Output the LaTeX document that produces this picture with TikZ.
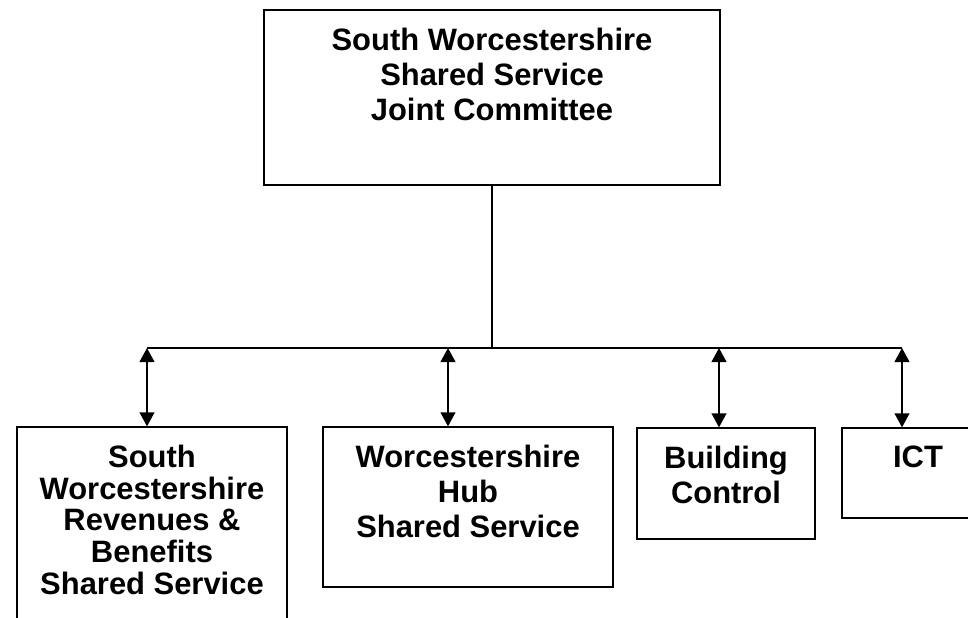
\documentclass[tikz,border=0pt]{standalone}
\usepackage{fontspec}
\setmainfont{Liberation Sans}
\usetikzlibrary{arrows.meta}
\tikzset{
  caption/.style={anchor=north, align=center, inner sep=0pt, yshift=-13pt,
    font=\bfseries\fontsize{22pt}{24.7pt}\selectfont},
  twoway/.style={{Triangle[width=10.5pt,length=10pt]}-{Triangle[width=10.5pt,length=10pt]}, line width=1.4pt},
}
\begin{document}
\begin{tikzpicture}[line width=0.9pt]
  \useasboundingbox (0, 0) rectangle (24.2, 15.45);
  \node (committee) [rectangle, draw, minimum height=4.375cm, minimum width=11.4cm,
    label={[caption, name=committee-text]north:South Worcestershire\\Shared Service\\Joint Committee}] at (12.3, 13.0125) {};
  \node (revben) [rectangle, draw, minimum height=5.325cm, minimum width=6.75cm,
    label={[caption, name=revben-text, font=\bfseries\fontsize{22pt}{22.5pt}\selectfont]north:South\\Worcestershire\\Revenues \&\\Benefits\\Shared Service}] at (3.8, 2.1125) {};
  \node (hub) [rectangle, draw, minimum height=4cm, minimum width=7.25cm,
    label={[caption, name=hub-text]north:Worcestershire\\Hub\\Shared Service}] at (11.7, 2.775) {};
  \node (building) [rectangle, draw, minimum height=2.775cm, minimum width=4.45cm,
    label={[caption, name=building-text]north:Building\\Control}] at (18.15, 3.3625) {};
  \node (ict) [rectangle, draw, minimum height=2.25cm, minimum width=3.8cm,
    label={[caption, name=ict-text]north:ICT}] at (22.95, 3.625) {};

  % bus under the committee
  \coordinate (junction) at (12.3, 6.75);
  \coordinate (revben-tap) at (3.675, 6.75);
  \coordinate (hub-tap) at (11.2, 6.75);
  \coordinate (building-tap) at (17.975, 6.75);
  \coordinate (ict-tap) at (22.55, 6.75);
  \draw (committee.south) -- (junction);
  \draw (revben-tap) -- (ict-tap);

  \draw [twoway] (revben-tap) -- (revben-tap |- revben.north);
  \draw [twoway] (hub-tap) -- (hub-tap |- hub.north);
  \draw [twoway] (building-tap) -- (building-tap |- building.north);
  \draw [twoway] (ict-tap) -- (ict-tap |- ict.north);
\end{tikzpicture}
\end{document}
